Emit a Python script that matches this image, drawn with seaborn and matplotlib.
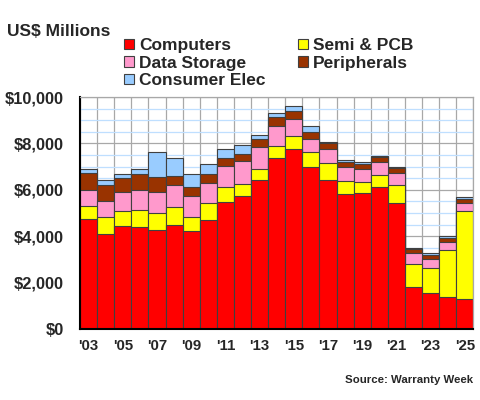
import numpy as np
import pandas as pd
import matplotlib
matplotlib.use("Agg")
import matplotlib.pyplot as plt
from matplotlib.patches import Patch
from matplotlib.ticker import MultipleLocator, FixedLocator
import seaborn as sns

years = list(range(2003, 2026))
computers = [4740, 4095, 4455, 4410, 4255, 4485, 4225, 4685, 5460, 5720, 6410, 7370,
             7760, 6985, 6410, 5820, 5860, 6120, 5430, 1795, 1550, 1380, 1295]
semi_pcb = [580, 720, 645, 735, 730, 760, 620, 760, 645, 520, 490, 505,
            575, 630, 735, 575, 475, 530, 760, 990, 1065, 2040, 3790]
data_storage = [650, 705, 805, 860, 935, 950, 905, 860, 920, 1005, 950, 890,
                735, 575, 600, 575, 560, 545, 520, 475, 400, 330, 360]
peripherals = [745, 675, 605, 660, 615, 385, 390, 375, 345, 315, 330, 360,
               315, 315, 275, 230, 230, 200, 215, 185, 185, 170, 175]
consumer_elec = [170, 230, 185, 215, 1090, 775, 560, 415, 390, 360, 185, 200,
                 215, 260, 55, 70, 60, 60, 45, 60, 60, 70, 55]

series = [("Computers", computers, "#FF0000"),
          ("Semi & PCB", semi_pcb, "#FFFF00"),
          ("Data Storage", data_storage, "#FF99CC"),
          ("Peripherals", peripherals, "#993300"),
          ("Consumer Elec", consumer_elec, "#99CCFF")]

sns.set_theme(style="white")
plt.rcParams['font.family'] = ['Liberation Sans', 'DejaVu Sans']
plt.rcParams['font.weight'] = 'bold'

df = pd.DataFrame({"year": [str(y) for y in years]})
cum = np.zeros(len(years))
for name, vals, col in series:
    cum = cum + np.array(vals)
    df[name] = cum

fig = plt.figure(figsize=(4.8, 4.0), dpi=100)
ax = fig.add_axes([80 / 480, 71 / 400, 393.3 / 480, 232 / 400])

# draw cumulative totals from the top down so each layer covers the one above
for name, vals, col in reversed(series):
    sns.barplot(data=df, x="year", y=name, color=col, width=1.0, errorbar=None,
                edgecolor="#404040", linewidth=0.8, saturation=1, ax=ax)

ax.set_xlim(-0.5, len(years) - 0.5)
ax.set_ylim(0, 10000)
ax.set_xlabel("")
ax.set_ylabel("")

ax.xaxis.set_major_locator(FixedLocator(list(range(0, len(years), 2))))
ax.set_xticklabels(["'%02d" % (y % 100) for y in years[::2]])
ax.xaxis.set_minor_locator(FixedLocator([i - 0.5 for i in range(len(years) + 1)]))
ax.yaxis.set_major_locator(MultipleLocator(2000))
ax.yaxis.set_minor_locator(MultipleLocator(500))
ax.set_yticklabels(["${:,}".format(int(v)) for v in ax.get_yticks()])

ax.tick_params(axis="x", which="major", length=0, pad=7, labelsize=10.8)
ax.tick_params(axis="x", which="minor", direction="out", length=3, width=1, color="black")
ax.tick_params(axis="y", which="major", direction="inout", length=5.5, width=1.2,
               color="black", pad=9, labelsize=11.8)
ax.tick_params(axis="y", which="minor", direction="in", length=2.6, width=1, color="black")
for lab in ax.get_xticklabels() + ax.get_yticklabels():
    lab.set_fontweight("bold")

ax.set_axisbelow(True)
ax.yaxis.grid(True, which="minor", color="#BFDFFF", linewidth=0.9)
ax.yaxis.grid(True, which="major", color="#A8A8A8", linewidth=0.9)
ax.xaxis.grid(True, which="minor", color="#A8A8A8", linewidth=0.9)
ax.xaxis.grid(False, which="major")

for s in ["left", "bottom"]:
    ax.spines[s].set_color("black")
    ax.spines[s].set_linewidth(1.5)
for s in ["top", "right"]:
    ax.spines[s].set_color("#A8A8A8")
    ax.spines[s].set_linewidth(0.9)

order = ["Computers", "Data Storage", "Consumer Elec", "Semi & PCB", "Peripherals"]
colors = {n: c for n, v, c in series}
handles = [Patch(facecolor=colors[n], edgecolor="#404040", linewidth=0.8, label=n) for n in order]
fig.legend(handles=handles, loc="upper left", bbox_to_anchor=(124 / 480, 1 - 38 / 400),
           ncol=2, frameon=False, prop={"size": 12.5, "weight": "bold"},
           handlelength=0.55, handleheight=0.55, handletextpad=0.3,
           labelspacing=0.15, columnspacing=1.9, borderpad=0, borderaxespad=0)

fig.text(7 / 480, 1 - 31 / 400, "US$ Millions", fontsize=12.5, fontweight="bold", va="center")
fig.text(473 / 480, 1 - 380 / 400, "Source: Warranty Week", fontsize=8.2,
         fontweight="bold", ha="right", va="center")

fig.savefig("out.png", dpi=100)
